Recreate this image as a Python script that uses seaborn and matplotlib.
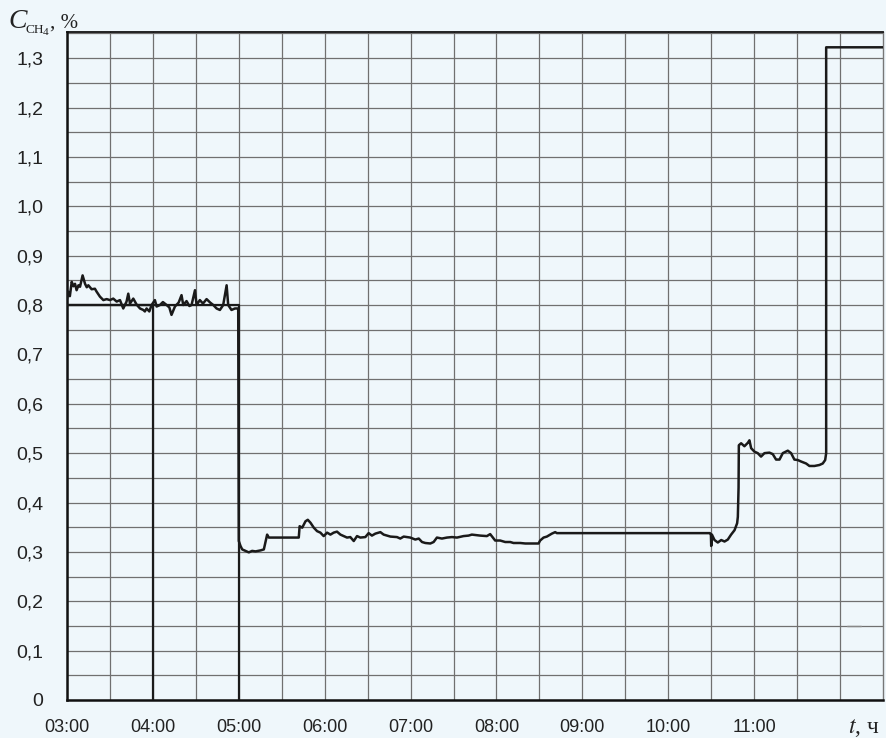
import numpy as np
import pandas as pd
import matplotlib
matplotlib.use("Agg")
import matplotlib.pyplot as plt
import seaborn as sns

# ---- data (minutes after 03:00, CH4 concentration %) ----
trace_min = [0, 0.9, 2.0, 3.3, 4.5, 5.6, 6.7, 8.0, 9.1, 10.9, 12.6, 13.8, 14.9, 17.2, 19.5, 20.7,
             23.0, 25.4, 27.7, 30.0, 32.3, 34.7, 37.0, 39.3, 41.6, 42.8, 44.0, 46.3, 48.6, 51.0,
             53.3, 54.4, 55.6, 57.5, 59.1, 61.4, 62.6, 64.9, 67.0, 69.6, 71.5, 73.0, 75.4, 78.0,
             80.0, 81.2, 83.5, 85.5, 87.0, 89.4, 90.5, 92.8, 95.0, 97.5, 100.0, 102.2, 104.5, 106.8,
             109.1, 111.5, 112.6, 114.9, 117.3, 119.6,
             120.0, 121.2, 122.4, 124.7, 127.0, 129.3, 131.7, 135.2, 137.5, 138.6, 139.8, 141.0,
             161.9, 162.5, 164.3, 166.6, 168.2, 170.1, 172.4, 174.7, 177.0, 179.3, 181.7, 184.0,
             186.3, 188.6, 191.0, 193.3, 195.6, 197.9, 200.3, 202.6, 204.9,
             208.4, 210.7, 213.0, 215.4, 218.9, 221.2, 225.9, 230.5, 232.8, 235.2, 239.8, 243.3,
             245.7, 248.0, 250.3, 253.8, 256.1, 258.4, 261.9, 265.4, 268.9, 272.4, 277.0, 280.5,
             282.8, 288.6, 293.3, 295.6, 299.1, 302.6, 306.1, 309.6, 311.9, 316.6, 320.1, 329.4,
             330.5, 332.9, 335.2, 338.7, 341.0, 342.2,
             449.1, 449.8, 450.0, 450.5, 452.3, 454.6, 457.0, 459.3, 461.6, 463.9, 466.3, 468.1,
             468.6, 469.1, 469.3, 470.9, 473.2, 475.6, 476.7, 477.9, 480.2, 482.5, 484.8, 487.2,
             490.7, 493.0, 495.3, 497.7, 500.0, 503.5, 505.8, 508.1, 510.5, 512.8, 516.3, 518.6,
             522.1, 525.6, 527.9, 529.6, 530.3, 530.3, 570.0]
trace_val = [0.813, 0.827, 0.818, 0.847, 0.838, 0.843, 0.830, 0.840, 0.837, 0.860, 0.843, 0.836, 0.840, 0.832, 0.833, 0.827,
             0.817, 0.810, 0.812, 0.810, 0.813, 0.807, 0.810, 0.793, 0.807, 0.823, 0.803, 0.813, 0.801, 0.793,
             0.790, 0.787, 0.793, 0.787, 0.800, 0.810, 0.797, 0.800, 0.806, 0.800, 0.795, 0.780, 0.797, 0.805,
             0.820, 0.800, 0.808, 0.798, 0.800, 0.830, 0.800, 0.810, 0.803, 0.812, 0.805, 0.800, 0.793, 0.790,
             0.800, 0.840, 0.800, 0.790, 0.793, 0.793,
             0.322, 0.312, 0.305, 0.302, 0.299, 0.302, 0.301, 0.303, 0.305, 0.319, 0.335, 0.329,
             0.329, 0.352, 0.349, 0.362, 0.365, 0.359, 0.349, 0.342, 0.339, 0.332, 0.339, 0.335,
             0.339, 0.341, 0.335, 0.332, 0.329, 0.330, 0.322, 0.332, 0.329,
             0.330, 0.338, 0.333, 0.337, 0.340, 0.335, 0.331, 0.330, 0.327, 0.331, 0.329, 0.325,
             0.327, 0.320, 0.318, 0.317, 0.320, 0.329, 0.327, 0.329, 0.330, 0.329, 0.332, 0.333,
             0.335, 0.333, 0.332, 0.336, 0.323, 0.323, 0.320, 0.320, 0.318, 0.318, 0.317, 0.317,
             0.323, 0.329, 0.331, 0.337, 0.340, 0.338,
             0.338, 0.334, 0.312, 0.335, 0.324, 0.319, 0.324, 0.321, 0.325, 0.335, 0.344, 0.358,
             0.371, 0.430, 0.516, 0.520, 0.514, 0.521, 0.526, 0.510, 0.503, 0.500, 0.493, 0.500,
             0.501, 0.498, 0.487, 0.487, 0.500, 0.505, 0.500, 0.487, 0.486, 0.483, 0.479, 0.474,
             0.474, 0.476, 0.479, 0.486, 0.500, 1.322, 1.322]

step_min = [60, 60, 0, 120, 120]
step_val = [0.0, 0.8, 0.8, 0.8, 0.0]

mark_min = [544.9, 554.7]
mark_val = [0.15, 0.15]

xtick_labels = ["03:00", "04:00", "05:00", "06:00", "07:00", "08:00", "09:00", "10:00", "11:00"]
ytick_labels = ["0", "0,1", "0,2", "0,3", "0,4", "0,5", "0,6", "0,7", "0,8", "0,9", "1,0", "1,1", "1,2", "1,3"]

BG = "#eff7fb"
sns.set_style("white", {"axes.facecolor": BG, "figure.facecolor": BG})
plt.rcParams["font.family"] = ["Liberation Sans", "DejaVu Sans"]
plt.rcParams["mathtext.fontset"] = "stix"

fig = plt.figure(figsize=(8.86, 7.38), dpi=100)
fig.patch.set_facecolor(BG)
ax = fig.add_axes([67 / 886, 38 / 738, 816 / 886, 668 / 738])
ax.set_facecolor(BG)

df_trace = pd.DataFrame({"h": np.array(trace_min) / 60 + 3, "v": trace_val})
df_step = pd.DataFrame({"h": np.array(step_min) / 60 + 3, "v": step_val})
df_mark = pd.DataFrame({"h": np.array(mark_min) / 60 + 3, "v": mark_val})

sns.lineplot(data=df_step, x="h", y="v", sort=False, estimator=None, color="#1a1a1a", lw=1.6, ax=ax, zorder=3)
sns.lineplot(data=df_trace, x="h", y="v", sort=False, estimator=None, color="#1a1a1a", lw=1.8, ax=ax, zorder=4)
sns.lineplot(data=df_mark, x="h", y="v", sort=False, estimator=None, color="#888888", lw=1.0, ax=ax, zorder=3)

ax.set_xlim(3, 12.5)
ax.set_ylim(0, 1.353)

xt = np.arange(3, 12.01, 0.5)
ax.set_xticks(xt)
xl = []
for i in range(len(xt)):
    xl.append(xtick_labels[i // 2] if (i % 2 == 0 and i // 2 < len(xtick_labels)) else "")
ax.set_xticklabels(xl)
yt = np.arange(0, 1.351, 0.05)
ax.set_yticks(yt)
ax.set_yticklabels([ytick_labels[i // 2] if i % 2 == 0 else "" for i in range(len(yt))])

for lbl in ax.get_xticklabels():
    lbl.set_fontsize(13)
    lbl.set_color("#222222")
for lbl in ax.get_yticklabels():
    lbl.set_fontsize(14)
    lbl.set_color("#222222")

ax.tick_params(axis="x", direction="out", length=4, width=1, color="#333333", pad=10)
ax.tick_params(axis="y", direction="out", length=4, width=1, color="#333333", pad=13)

ax.grid(True, color="#707070", lw=0.9)
ax.set_axisbelow(True)
ax.set_xlabel("")
ax.set_ylabel("")

for side in ["left", "bottom"]:
    ax.spines[side].set_color("#111111")
    ax.spines[side].set_linewidth(1.8)
ax.spines["top"].set_color("#111111")
ax.spines["top"].set_linewidth(1.3)
ax.spines["right"].set_color("#777777")
ax.spines["right"].set_linewidth(1.0)

serif = ["Liberation Serif", "DejaVu Serif"]
fig.text(8 / 886, 1 - 28 / 738, "C", fontsize=20, style="italic", va="baseline", ha="left",
         family=serif, color="#222222")
fig.text(25 / 886, 1 - 33 / 738, "CH", fontsize=9.5, va="baseline", ha="left",
         family=serif, color="#222222")
fig.text(43 / 886, 1 - 35 / 738, "4", fontsize=8, va="baseline", ha="left",
         family=serif, color="#222222")
fig.text(50 / 886, 1 - 28 / 738, ", %", fontsize=15, va="baseline", ha="left",
         family=serif, color="#222222")
fig.text(848 / 886, 1 - 733 / 738, r"$t$, ч", fontsize=17, va="baseline", ha="left",
         family=serif, color="#222222")

fig.savefig("out.png", dpi=100, facecolor=BG)
